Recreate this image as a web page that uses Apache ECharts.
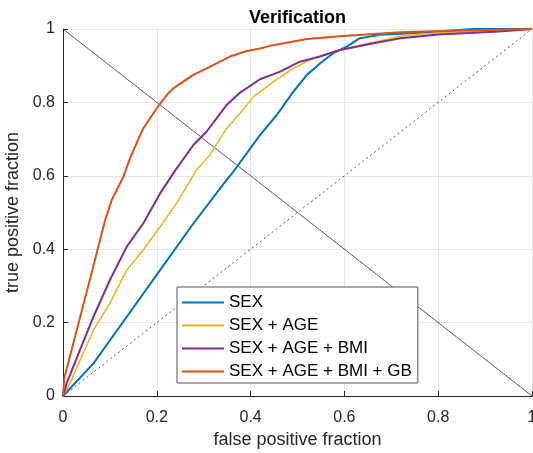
<!DOCTYPE html>
<html>
<head>
<meta charset="utf-8">
<script src="https://cdn.jsdelivr.net/npm/echarts@6/dist/echarts.min.js"></script>
<style>
    html, body { margin: 0; padding: 0; background: #fff; }
    #chart { width: 533px; height: 453px; }
</style>
</head>
<body>
<div id="chart"></div>
<script>
// ROC curves (false positive fraction / true positive fraction)
const sexFpr = [0, 0.065, 0.136, 0.207, 0.278, 0.349, 0.363, 0.42, 0.456, 0.491, 0.52, 0.548, 0.576, 0.605, 0.633, 0.676, 0.72, 0.8, 0.875, 1];
const sexTpr = [0, 0.089, 0.216, 0.343, 0.47, 0.589, 0.611, 0.711, 0.766, 0.829, 0.875, 0.906, 0.934, 0.952, 0.975, 0.984, 0.987, 0.993, 1.0, 1];

const ageFpr = [0, 0.015, 0.065, 0.1, 0.136, 0.171, 0.207, 0.242, 0.285, 0.313, 0.349, 0.377, 0.406, 0.448, 0.491, 0.534, 0.576, 0.619, 0.72, 0.8, 0.9, 1];
const ageTpr = [0, 0.035, 0.18, 0.253, 0.343, 0.398, 0.461, 0.525, 0.616, 0.657, 0.729, 0.77, 0.815, 0.856, 0.893, 0.92, 0.938, 0.952, 0.98, 0.99, 0.995, 1];

const bmiFpr = [0, 0.008, 0.036, 0.065, 0.1, 0.136, 0.171, 0.207, 0.239, 0.278, 0.306, 0.349, 0.377, 0.42, 0.463, 0.505, 0.548, 0.591, 0.662, 0.72, 0.8, 0.93, 1];
const bmiTpr = [0, 0.035, 0.125, 0.216, 0.316, 0.407, 0.47, 0.552, 0.614, 0.684, 0.72, 0.793, 0.826, 0.863, 0.884, 0.911, 0.925, 0.943, 0.961, 0.975, 0.985, 0.993, 1];

const gbFpr = [0, 0.003, 0.022, 0.061, 0.09, 0.104, 0.129, 0.143, 0.171, 0.2, 0.221, 0.235, 0.278, 0.313, 0.356, 0.392, 0.42, 0.448, 0.52, 0.598, 0.719, 0.85, 1];
const gbTpr = [0, 0.05, 0.144, 0.335, 0.48, 0.534, 0.598, 0.648, 0.729, 0.784, 0.82, 0.838, 0.875, 0.897, 0.925, 0.94, 0.947, 0.956, 0.973, 0.981, 0.991, 0.996, 1];

const names = ['SEX', 'SEX + AGE', 'SEX + AGE + BMI', 'SEX + AGE + BMI + GB'];
const colors = ['#0072BD', '#EDB120', '#7E2F8E', '#D95319'];
const widths = [2, 1.5, 2, 2];

// reference lines
const chanceX = [0, 1], chanceY = [0, 1];
const crossX = [0, 1], crossY = [1, 0];

const font = '"Liberation Sans", Arial, sans-serif';

const zip = (xs, ys) => xs.map((x, i) => [x, ys[i]]);
const curves = [zip(sexFpr, sexTpr), zip(ageFpr, ageTpr), zip(bmiFpr, bmiTpr), zip(gbFpr, gbTpr)];

const chart = echarts.init(document.getElementById('chart'), null, { renderer: 'canvas' });

const series = [
    {
        name: 'chance',
        type: 'line',
        data: zip(chanceX, chanceY),
        symbol: 'none',
        silent: true,
        lineStyle: { color: '#333', width: 0.8, type: [2, 3] }
    },
    {
        name: 'cross',
        type: 'line',
        data: zip(crossX, crossY),
        symbol: 'none',
        silent: true,
        lineStyle: { color: '#333', width: 0.8 }
    }
];

curves.forEach((d, i) => {
    series.push({
        name: names[i],
        type: 'line',
        data: d,
        symbol: 'none',
        color: colors[i],
        lineStyle: { color: colors[i], width: widths[i] }
    });
});

const option = {
    animation: false,
    backgroundColor: '#fff',
    title: {
        text: 'Verification',
        left: 297.5,
        textAlign: 'center',
        top: 9,
        padding: 0,
        textStyle: { fontFamily: font, fontSize: 18, fontWeight: 'bold', color: '#000' }
    },
    grid: { left: 63, right: 1, top: 29, bottom: 57, outerBoundsMode: 'none' },
    legend: {
        data: names,
        orient: 'vertical',
        left: 177,
        top: 287,
        padding: [7, 6, 3, 4],
        itemWidth: 42,
        itemHeight: 14,
        itemGap: 6,
        // hide the marker dot, keep only the line
        itemStyle: { opacity: 0 },
        backgroundColor: '#fff',
        borderColor: '#555',
        borderWidth: 1,
        borderRadius: 0,
        textStyle: { fontFamily: font, fontSize: 17, color: '#000' }
    },
    xAxis: {
        type: 'value',
        min: 0,
        max: 1,
        interval: 0.2,
        name: 'false positive fraction',
        nameLocation: 'middle',
        nameGap: 33,
        nameTextStyle: { fontFamily: font, fontSize: 18, color: '#262626' },
        axisLine: { show: true, lineStyle: { color: '#262626', width: 1 } },
        axisTick: { show: true, inside: true, length: 5, lineStyle: { color: '#262626' } },
        axisLabel: { margin: 14, fontFamily: font, fontSize: 16, color: '#262626' },
        splitLine: { show: true, lineStyle: { color: '#e6e6e6', width: 1 } }
    },
    yAxis: {
        type: 'value',
        min: 0,
        max: 1,
        interval: 0.2,
        name: 'true positive fraction',
        nameLocation: 'middle',
        nameGap: 28,
        nameTextStyle: { fontFamily: font, fontSize: 18, color: '#262626' },
        axisLine: { show: true, lineStyle: { color: '#262626', width: 1 } },
        axisTick: { show: true, inside: true, length: 5, lineStyle: { color: '#262626' } },
        axisLabel: { margin: 8, fontFamily: font, fontSize: 16, color: '#262626' },
        splitLine: { show: true, lineStyle: { color: '#e6e6e6', width: 1 } }
    },
    series: series
};

chart.setOption(option);
</script>
</body>
</html>
